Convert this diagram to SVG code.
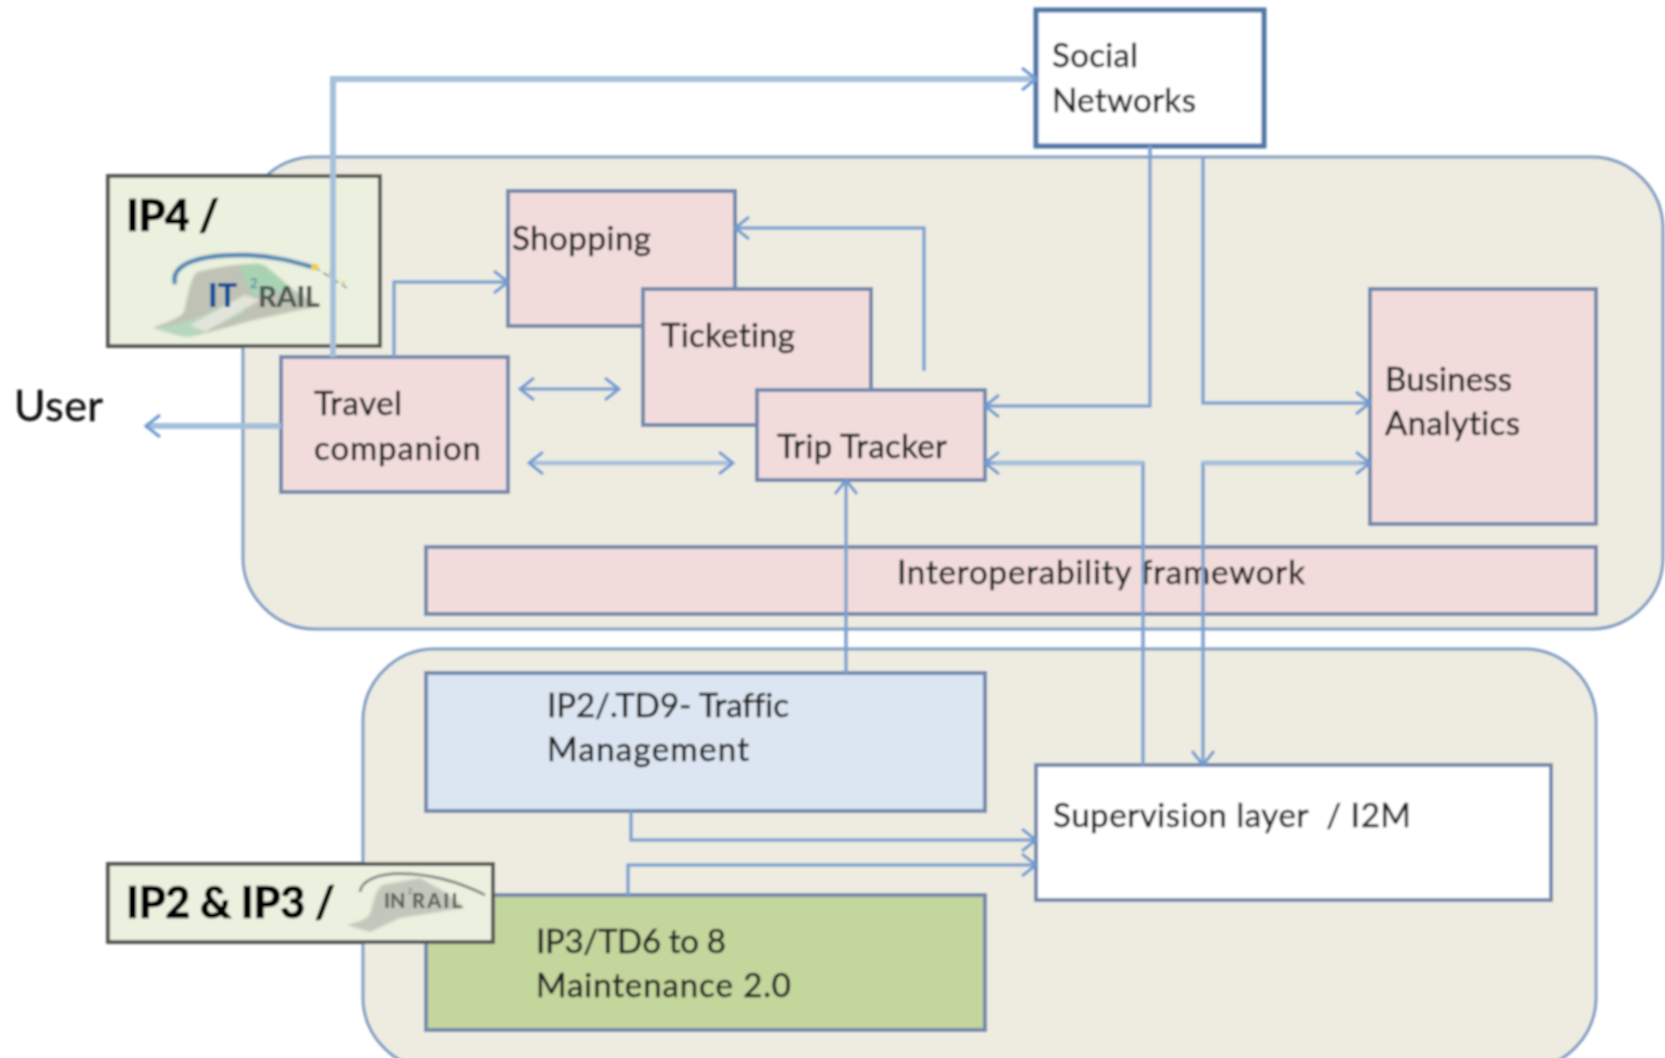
<svg xmlns="http://www.w3.org/2000/svg" width="1665" height="1058" viewBox="0 0 1665 1058">
<style>
.panel{fill:#eeece1;stroke:#7f9cc2;stroke-width:3}
.box{stroke:#7389ad;stroke-width:4}
.pink{fill:#f2dcdb}
.lab{fill:#ebf1de;stroke:#595959;stroke-width:4}
.t{font-family:Lato,"Open Sans",sans-serif;font-size:33px;fill:#222;stroke:#222;stroke-width:.5;font-variant-ligatures:none}
.b{font-family:Lato,"Open Sans",sans-serif;font-size:43px;font-weight:900;fill:#000;stroke:#000;stroke-width:.6}
.m{font-family:Lato,sans-serif;font-weight:900}
.c{fill:none;stroke:#7fa3cf;stroke-width:3.5}
.k{fill:none;stroke:#a6c0dc;stroke-width:6}
.a{marker-end:url(#ar)}
.d{marker-start:url(#ar);marker-end:url(#ar)}
</style>
<defs>
<marker id="ar" markerUnits="userSpaceOnUse" markerWidth="30" markerHeight="30" refX="20" refY="15" orient="auto-start-reverse" viewBox="0 0 30 30"><path d="M6 4 L20 15 L6 26" fill="none" stroke="#6f9bd0" stroke-width="3"/></marker>
<filter id="s" filterUnits="userSpaceOnUse" x="0" y="0" width="1665" height="1058"><feGaussianBlur stdDeviation="0.85"/></filter>
<filter id="l" x="-10%" y="-10%" width="120%" height="120%"><feGaussianBlur stdDeviation="1.2"/></filter>
</defs>
<rect width="1665" height="1058" fill="#fff"/>
<g filter="url(#s)">
<g id="panel-top"><rect class="panel" x="243" y="157" width="1420" height="472" rx="72"/></g>
<g id="panel-bottom"><rect class="panel" x="363" y="649" width="1233" height="420" rx="72"/></g>
<g id="shopping"><rect class="box pink" x="508" y="191" width="227" height="135"/><text class="t" x="512" y="250" textLength="139">Shopping</text></g>
<g id="ticketing"><rect class="box pink" x="643" y="289" width="228" height="136"/><text class="t" x="661" y="347" textLength="134">Ticketing</text></g>
<g id="trip-tracker"><rect class="box pink" x="757" y="390" width="228" height="90"/><text class="t" x="777" y="458" textLength="170">Trip Tracker</text></g>
<g id="travel-companion"><rect class="box pink" x="281" y="357" width="227" height="135"/><text class="t" x="314" y="415" textLength="88">Travel</text><text class="t" x="314" y="460" textLength="167">companion</text></g>
<g id="business-analytics"><rect class="box pink" x="1370" y="289" width="226" height="235"/><text class="t" x="1385" y="391" textLength="127">Business</text><text class="t" x="1385" y="435" textLength="135">Analytics</text></g>
<g id="interoperability"><rect class="box pink" x="426" y="547" width="1170" height="67"/><text class="t" x="897" y="584" textLength="408">Interoperability framework</text></g>
<g id="traffic"><rect class="box" fill="#dce6f2" x="426" y="673" width="559" height="138"/><text class="t" x="547" y="717" textLength="242">IP2/.TD9- Traffic</text><text class="t" x="547" y="761" textLength="202">Management</text></g>
<g id="supervision"><rect class="box" fill="#fff" x="1036" y="765" width="515" height="135"/><text class="t" x="1053" y="827" textLength="358" xml:space="preserve">Supervision layer  / I2M</text></g>
<g id="maintenance"><rect class="box" fill="#c3d69b" x="426" y="895" width="559" height="135"/><text class="t" x="536" y="953" textLength="190">IP3/TD6 to 8</text><text class="t" x="536" y="997" textLength="255">Maintenance 2.0</text></g>
<g id="social"><rect fill="#fff" stroke="#4f76a6" stroke-width="5" x="1036" y="10" width="228" height="136"/><text class="t" x="1052" y="67" textLength="86">Social</text><text class="t" x="1052" y="112" textLength="144">Networks</text></g>
<g id="user"><text x="14" y="421" font-family="Lato,'Open Sans',sans-serif" font-size="43" fill="#111" stroke="#111" stroke-width=".4" textLength="89">User</text></g>
<g id="ip4-label"><rect class="lab" x="108" y="176" width="272" height="170"/><text class="b" x="126" y="231" textLength="93">IP4 /</text>
<g filter="url(#l)">
<path d="M153 328 C165 322 178 320 184 312 C188 295 190 280 197 272 C215 268 235 264 250 264 L263 265 C275 275 285 285 297 292 L320 306 C290 312 270 316 250 321 C225 328 205 334 187 337 C175 335 165 331 153 328Z" fill="#bfc2b4"/>
<path d="M240 268 C250 262 262 262 268 268 L294 290 L252 296Z" fill="#a9d2b2"/>
<path d="M153 328 C175 326 205 318 232 300 L245 312 C225 322 205 332 187 337Z" fill="#b5d8bc"/>
<path d="M190 325 L245 295 L260 300 L205 332Z" fill="#e2e4da"/>
</g>
<path d="M175 284 C170 264 200 254 245 255 C275 256 295 262 312 267" fill="none" stroke="#2f6aa5" stroke-width="3.5" filter="url(#l)"/>
<path d="M314 267 L347 288" fill="none" stroke="#8aa6bd" stroke-width="2" stroke-dasharray="7 4"/>
<circle cx="315" cy="267" r="3.5" fill="#f2cf3c"/><circle cx="331" cy="273" r="2.5" fill="#e6d36a"/><circle cx="343" cy="283" r="2" fill="#e6d36a"/>
<text class="m" x="208" y="307" font-size="32" fill="#0f5096">IT</text><text x="250" y="288" font-family="Lato,sans-serif" font-size="13" fill="#2f7ab0">2</text><text class="m" x="258" y="307" font-size="29" fill="#4f5a53" textLength="62">RAIL</text></g>
<g id="ip23-label"><rect class="lab" x="108" y="864" width="385" height="78"/><text class="b" x="126" y="918" textLength="209">IP2 &amp; IP3 /</text>
<path d="M360 892 C362 868 430 866 485 895" fill="none" stroke="#8d918a" stroke-width="3"/>
<path d="M347 925 C358 922 366 920 370 914 C374 900 375 892 382 885 L420 878 L445 892 L465 908 L400 918 L370 932Z" fill="#c3c6bb" filter="url(#l)"/>
<text class="m" x="384" y="908" font-size="20" fill="#5a5f59">IN</text><text x="408" y="894" font-family="Lato,sans-serif" font-size="7" fill="#5a5f59">2</text><text class="m" x="412" y="908" font-size="20" fill="#5a5f59" textLength="50">RAIL</text></g>
<g id="connectors">
<path class="k a" d="M333 357 V79 H1036"/>
<path class="c a" d="M394 357 V282 H508"/>
<path class="k a" d="M281 426 H146"/>
<path class="c d" d="M520 389 H619"/>
<path class="k d" style="stroke-width:4.5" d="M529 463 H733"/>
<path class="c a" d="M924 371 V228 H735"/>
<path class="c a" d="M846 673 V480"/>
<path class="c a" d="M1150 146 V406 H985"/>
<path class="c a" d="M1203 157 V403 H1370"/>
<path class="c a" d="M1143 765 V463 H985"/>
<path class="k" style="stroke-width:5" d="M1143 463 H995"/>
<path class="c d" d="M1370 463 H1203 V765"/>
<path class="k" style="stroke-width:5" d="M1203 463 H1360"/>
<path class="c a" d="M631 811 V840 H1036"/>
<path class="c a" d="M628 895 V865 H1036"/>
</g>
</g>
</svg>
